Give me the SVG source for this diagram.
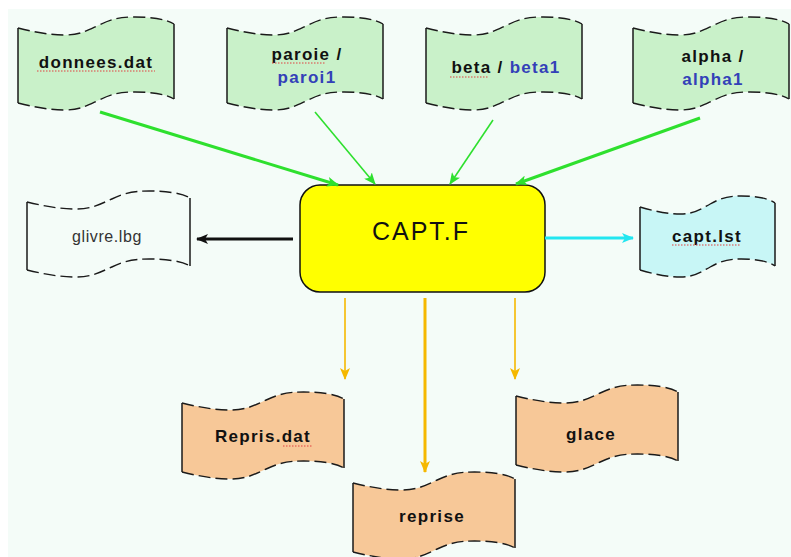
<svg xmlns="http://www.w3.org/2000/svg" xmlns:xlink="http://www.w3.org/1999/xlink" width="791" height="557" viewBox="0 0 791 557">
<style>
  .dash{fill:none;stroke:#1a1a1a;stroke-width:1.4;stroke-dasharray:12 5}
  .side{fill:none;stroke:#1a1a1a;stroke-width:1.5}
  .green{fill:#c9f1c9}
  .orange{fill:#f7c898}
  .cyan{fill:#c8f6f6}
  .plain{fill:#f4fcf8}
  .lbl{font-family:"Liberation Sans",Arial,sans-serif;font-size:17px;font-weight:bold;fill:#111;text-anchor:middle;letter-spacing:1.3px}
  .blue{fill:#3340b8}
  .thin{font-family:"Liberation Sans",Arial,sans-serif;font-size:16px;fill:#333;text-anchor:middle;letter-spacing:0.6px}
  .spell{stroke:#e04040;stroke-width:1;stroke-dasharray:1.5 1.5}
  .conn line{fill:none}
  .gr{stroke:#2ee02e}
  .bk{stroke:#111}
  .cy{stroke:#22e6f0}
  .or{stroke:#f5b800}
</style>
<defs>
  <marker id="mG" markerUnits="userSpaceOnUse" markerWidth="12" markerHeight="10" refX="11" refY="5" orient="auto"><path d="M0,0 L12,5 L0,10 L3,5 Z" fill="#2ee02e"/></marker>
  <marker id="mK" markerUnits="userSpaceOnUse" markerWidth="12" markerHeight="10" refX="11" refY="5" orient="auto"><path d="M0,0 L12,5 L0,10 L3,5 Z" fill="#111"/></marker>
  <marker id="mC" markerUnits="userSpaceOnUse" markerWidth="12" markerHeight="10" refX="11" refY="5" orient="auto"><path d="M0,0 L12,5 L0,10 L3,5 Z" fill="#22e6f0"/></marker>
  <marker id="mO" markerUnits="userSpaceOnUse" markerWidth="12" markerHeight="10" refX="11" refY="5" orient="auto"><path d="M0,0 L12,5 L0,10 L3,5 Z" fill="#f5b800"/></marker>
  <path id="fA" d="M0,0 C15.6,4 31.2,7 46.8,7 C62.4,7 70.2,2 81.1,-3 C93.6,-9 101.4,-11 117,-11 C132.6,-11 148.2,-9 156,-4 L156,71 C148.2,66 132.6,64 117,64 C101.4,64 93.6,66 81.1,72 C70.2,77 62.4,82 46.8,82 C31.2,82 15.6,79 0,75 Z"/>
  <path id="dA" d="M0,0 C15.6,4 31.2,7 46.8,7 C62.4,7 70.2,2 81.1,-3 C93.6,-9 101.4,-11 117,-11 C132.6,-11 148.2,-9 156,-4 M0,75 C15.6,79 31.2,82 46.8,82 C62.4,82 70.2,77 81.1,72 C93.6,66 101.4,64 117,64 C132.6,64 148.2,66 156,71"/>
  <path id="sA" d="M0,0 V75 M156,-4 V71"/>
  <path id="fB" d="M0,0 C16.3,4 32.6,7 48.9,7 C65.2,7 73.4,2 84.8,-3 C97.8,-9 106,-11 122.3,-11 C138.6,-11 154.9,-9 163,-4 L163,64 C154.9,59 138.6,57 122.3,57 C106,57 97.8,59 84.8,65 C73.4,70 65.2,75 48.9,75 C32.6,75 16.3,72 0,68 Z"/>
  <path id="dB" d="M0,0 C16.3,4 32.6,7 48.9,7 C65.2,7 73.4,2 84.8,-3 C97.8,-9 106,-11 122.3,-11 C138.6,-11 154.9,-9 163,-4 M0,68 C16.3,72 32.6,75 48.9,75 C65.2,75 73.4,70 84.8,65 C97.8,59 106,57 122.3,57 C138.6,57 154.9,59 163,64"/>
  <path id="sB" d="M0,0 V68 M163,-4 V64"/>
  <path id="fC" d="M0,0 C13.5,4 27,7 40.5,7 C54,7 60.8,2 70.2,-3 C81,-9 87.8,-11 101.3,-11 C114.8,-11 128.3,-9 135,-4 L135,59 C128.3,54 114.8,52 101.3,52 C87.8,52 81,54 70.2,60 C60.8,65 54,70 40.5,70 C27,70 13.5,67 0,63 Z"/>
  <path id="dC" d="M0,0 C13.5,4 27,7 40.5,7 C54,7 60.8,2 70.2,-3 C81,-9 87.8,-11 101.3,-11 C114.8,-11 128.3,-9 135,-4 M0,63 C13.5,67 27,70 40.5,70 C54,70 60.8,65 70.2,60 C81,54 87.8,52 101.3,52 C114.8,52 128.3,54 135,59"/>
  <path id="sC" d="M0,0 V63 M135,-4 V59"/>
  <path id="fD" d="M0,0 C16.2,4 32.4,7 48.6,7 C64.8,7 72.9,2 84.2,-3 C97.2,-9 105.3,-11 121.5,-11 C137.7,-11 153.9,-9 162,-4 L162,65 C153.9,60 137.7,58 121.5,58 C105.3,58 97.2,60 84.2,66 C72.9,71 64.8,76 48.6,76 C32.4,76 16.2,73 0,69 Z"/>
  <path id="dD" d="M0,0 C16.2,4 32.4,7 48.6,7 C64.8,7 72.9,2 84.2,-3 C97.2,-9 105.3,-11 121.5,-11 C137.7,-11 153.9,-9 162,-4 M0,69 C16.2,73 32.4,76 48.6,76 C64.8,76 72.9,71 84.2,66 C97.2,60 105.3,58 121.5,58 C137.7,58 153.9,60 162,65"/>
  <path id="sD" d="M0,0 V69 M162,-4 V65"/>
</defs>

<rect x="0" y="0" width="791" height="557" fill="#ffffff"/>
<rect x="8" y="9" width="783" height="548" fill="#f4fcf8"/>

<g id="donnees" transform="translate(18,28)">
  <use xlink:href="#fA" class="green"/><use xlink:href="#dA" class="dash"/><use xlink:href="#sA" class="side"/>
  <text class="lbl" x="78" y="40">donnees.dat</text>
  <line class="spell" x1="19" y1="43" x2="137" y2="43"/>
</g>
<g id="paroie" transform="translate(227,28)">
  <use xlink:href="#fA" class="green"/><use xlink:href="#dA" class="dash"/><use xlink:href="#sA" class="side"/>
  <text class="lbl" x="80" y="32">paroie /</text>
  <text class="lbl blue" x="80" y="55">paroi1</text>
  <line class="spell" x1="45" y1="35" x2="98" y2="35"/>
</g>
<g id="beta" transform="translate(426,28)">
  <use xlink:href="#fA" class="green"/><use xlink:href="#dA" class="dash"/><use xlink:href="#sA" class="side"/>
  <text class="lbl" x="80" y="45">beta / <tspan class="blue">beta1</tspan></text>
  <line class="spell" x1="24" y1="49" x2="62" y2="49"/>
</g>
<g id="alpha" transform="translate(633,28)">
  <use xlink:href="#fA" class="green"/><use xlink:href="#dA" class="dash"/><use xlink:href="#sA" class="side"/>
  <text class="lbl" x="80" y="34">alpha /</text>
  <text class="lbl blue" x="80" y="57">alpha1</text>
</g>
<g id="glivre" transform="translate(27,202)">
  <use xlink:href="#fB" class="plain"/><use xlink:href="#dB" class="dash"/><use xlink:href="#sB" class="side"/>
  <text class="thin" x="80" y="40">glivre.lbg</text>
</g>
<g id="captlst" transform="translate(640,207)">
  <use xlink:href="#fC" class="cyan"/><use xlink:href="#dC" class="dash"/><use xlink:href="#sC" class="side"/>
  <text class="lbl" x="67" y="35">capt.lst</text>
  <line class="spell" x1="32" y1="38" x2="100" y2="38"/>
</g>
<g id="reprisdat" transform="translate(182,403)">
  <use xlink:href="#fD" class="orange"/><use xlink:href="#dD" class="dash"/><use xlink:href="#sD" class="side"/>
  <text class="lbl" x="81" y="39">Repris.dat</text>
  <line class="spell" x1="101" y1="43" x2="130" y2="43"/>
</g>
<g id="reprise" transform="translate(353,483)">
  <use xlink:href="#fD" class="orange"/><use xlink:href="#dD" class="dash"/><use xlink:href="#sD" class="side"/>
  <text class="lbl" x="79" y="39">reprise</text>
</g>
<g id="glace" transform="translate(516,396)">
  <use xlink:href="#fD" class="orange"/><use xlink:href="#dD" class="dash"/><use xlink:href="#sD" class="side"/>
  <text class="lbl" x="75" y="44">glace</text>
</g>

<g id="capt">
  <rect x="300" y="185" width="245" height="107" rx="20" ry="20" fill="#ffff00" stroke="#111" stroke-width="1.5"/>
  <text x="421" y="240" font-family="'Liberation Sans',Arial,sans-serif" font-size="25" fill="#111" text-anchor="middle" letter-spacing="2">CAPT.F</text>
</g>

<g id="connectors" class="conn">
  <line class="gr" x1="100" y1="112" x2="338" y2="185" stroke-width="3" marker-end="url(#mG)"/>
  <line class="gr" x1="315" y1="112" x2="375" y2="184" stroke-width="1.6" marker-end="url(#mG)"/>
  <line class="gr" x1="493" y1="120" x2="450" y2="184" stroke-width="1.6" marker-end="url(#mG)"/>
  <line class="gr" x1="700" y1="118" x2="516" y2="184" stroke-width="3" marker-end="url(#mG)"/>
  <line class="bk" x1="293" y1="239" x2="197" y2="239" stroke-width="3" marker-end="url(#mK)"/>
  <line class="cy" x1="545" y1="238" x2="633" y2="238" stroke-width="3" marker-end="url(#mC)"/>
  <line class="or" x1="345" y1="298" x2="345" y2="379" stroke-width="1.6" marker-end="url(#mO)"/>
  <line class="or" x1="425" y1="298" x2="425" y2="472" stroke-width="3" marker-end="url(#mO)"/>
  <line class="or" x1="515" y1="298" x2="515" y2="379" stroke-width="1.6" marker-end="url(#mO)"/>
</g>
</svg>
